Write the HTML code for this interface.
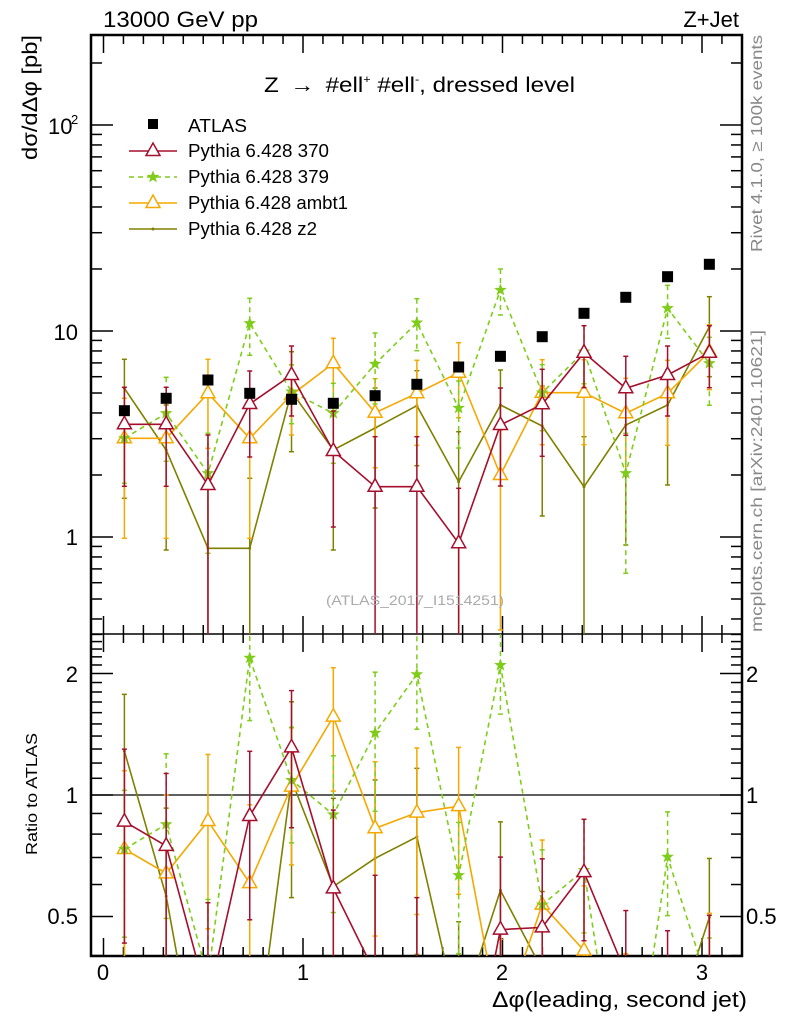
<!DOCTYPE html>
<html><head><meta charset="utf-8"><style>
html,body{margin:0;background:#fff;overflow:hidden;width:786px;height:1024px;}
svg{display:block;font-family:"Liberation Sans",sans-serif;}
</style></head><body>
<svg id="s" width="786" height="1024" xmlns="http://www.w3.org/2000/svg">
<defs>
<clipPath id="cm"><rect x="91" y="35" width="651" height="599"/></clipPath>
<clipPath id="cr"><rect x="91" y="634" width="651" height="322"/></clipPath>
</defs>
<g id="g"></g>
<text x="103" y="27" font-size="22" textLength="155" lengthAdjust="spacingAndGlyphs">13000 GeV pp</text>
<text x="739" y="27" font-size="22" text-anchor="end">Z+Jet</text>
<text x="264" y="92" font-size="21" textLength="311" lengthAdjust="spacingAndGlyphs">Z <tspan dx="4">→</tspan> <tspan dx="4">#ell</tspan><tspan font-size="11" dy="-9">+</tspan><tspan dy="9"> #ell</tspan><tspan font-size="11" dy="-9">-</tspan><tspan dy="9">, dressed level</tspan></text>
<g font-size="18">
<text x="188" y="132" textLength="59" lengthAdjust="spacingAndGlyphs">ATLAS</text>
<text x="188" y="157" textLength="141" lengthAdjust="spacingAndGlyphs">Pythia 6.428 370</text>
<text x="188" y="183" textLength="141" lengthAdjust="spacingAndGlyphs">Pythia 6.428 379</text>
<text x="188" y="209" textLength="160" lengthAdjust="spacingAndGlyphs">Pythia 6.428 ambt1</text>
<text x="188" y="235" textLength="129" lengthAdjust="spacingAndGlyphs">Pythia 6.428 z2</text>
</g>
<text transform="translate(37,160) rotate(-90)" font-size="21" textLength="125" lengthAdjust="spacingAndGlyphs">dσ/dΔφ [pb]</text>
<text transform="translate(37,855) rotate(-90)" font-size="16" textLength="122" lengthAdjust="spacingAndGlyphs">Ratio to ATLAS</text>
<text transform="translate(762,252) rotate(-90)" font-size="16" fill="#888" textLength="217" lengthAdjust="spacingAndGlyphs">Rivet 4.1.0, ≥ 100k events</text>
<text transform="translate(762,632) rotate(-90)" font-size="16" fill="#888" textLength="302" lengthAdjust="spacingAndGlyphs">mcplots.cern.ch [arXiv:2401.10621]</text>
<text x="415" y="605" font-size="14" fill="#aaa" text-anchor="middle" textLength="178" lengthAdjust="spacingAndGlyphs">(ATLAS_2017_I1514251)</text>
<g font-size="22">
<text x="48" y="134">10</text><text x="71" y="124" font-size="13">2</text>
<text x="78" y="340" text-anchor="end">10</text>
<text x="78" y="545" text-anchor="end">1</text>
<text x="78" y="682" text-anchor="end">2</text>
<text x="78" y="803" text-anchor="end">1</text>
<text x="78" y="924" text-anchor="end">0.5</text>
<text x="746" y="682">2</text>
<text x="746" y="803">1</text>
<text x="746" y="924">0.5</text>
<text x="103" y="980" text-anchor="middle">0</text>
<text x="303" y="980" text-anchor="middle">1</text>
<text x="502" y="980" text-anchor="middle">2</text>
<text x="702" y="980" text-anchor="middle">3</text>
<text x="492" y="1007" font-size="22" textLength="255" lengthAdjust="spacingAndGlyphs">Δφ(leading, second jet)</text>
</g>
</svg>
<script>
var NS="http://www.w3.org/2000/svg",G=document.getElementById('g');
function el(t,a,p){var e=document.createElementNS(NS,t);for(var k in a)e.setAttribute(k,a[k]);(p||G).appendChild(e);return e;}
var L=91,R=742,T=35,M=634,B=956;
var X=[];for(var i=0;i<15;i++)X.push(103.5+199.5*(Math.PI/15)*(i+0.5));
function ym(v){return 537-206*Math.log10(v);}
function lt(x1,y1,x2,y2){el('line',{x1:x1,y1:y1,x2:x2,y2:y2,stroke:'#000','stroke-width':1.5});}
function yr(v){return 795-403.5*Math.log10(v);}
for(var d=-1;d<=2;d++)for(var k=1;k<10;k++){var v=k*Math.pow(10,d),y=ym(v);if(y<T||y>M)continue;var len=k==1?22:11;lt(L,y,L+len,y);lt(R,y,R-len,y);}
var rv=[0.4,0.5,0.6,0.7,0.8,0.9,1,1.1,1.2,1.3,1.4,1.5,1.6,1.7,1.8,1.9,2,2.1,2.2,2.3,2.4,2.5];
rv.forEach(function(v){var y=yr(v);if(y<M||y>B)return;var len=(v==1||v==2||v==0.5)?22:11;lt(L,y,L+len,y);lt(R,y,R-len,y);});
for(var t=0;t<=32;t++){var x=103.5+199.5*t/10;if(x>R)break;var len=t%10==0?18:9;
[T,M].forEach(function(y){lt(x,y,x,y+len);});[M,B].forEach(function(y){lt(x,y,x,y-len);});}
el('rect',{x:L,y:T,width:R-L,height:B-T,fill:'none',stroke:'#000','stroke-width':2.5});
lt(L,M,R,M);
el('line',{x1:L,y1:795,x2:R,y2:795,stroke:'#000','stroke-width':1.2});
var A=[410.7,398.3,380,393.3,399.3,403.3,395.7,384.3,367,356.3,336.7,313.3,297.3,276.7,264.3];
var S=[
{c:'#a50f2d',m:'tri',dash:null,y:[424.3,424.3,485,404,375,451,486.7,486.7,543.3,425,404.3,352.7,388.3,375,352.7],
 up:[37,37,50,33,29,40,50,50,55,37,35,27,32,29,27],dn:[62,62,200,53,41,76,200,200,200,61,52,35,47,41,35]},
{c:'#7fcc1a',m:'star',dash:'5,4',y:[438.3,413.3,473.3,323.3,391.7,413.3,364,322.7,408,290,392.7,351.7,473.3,308.3,363.3],
 up:[30,36,40,25,27,30,31,24,27,21,28,26,40,23,26],dn:[45,48,80,32,32,50,40,28,40,25,38,32,100,30,42]},
{c:'#f5a800',m:'tri',dash:null,y:[438.3,438.3,393.3,438.3,395,363.3,412.7,393.3,372.7,475,392.7,392.7,413.3,393.3,351.7],
 up:[40,40,34,40,30,25,34,33,30,45,33,33,35,33,27],dn:[100,100,55,100,40,38,55,52,45,155,52,52,60,52,38]},
{c:'#808000',m:'dot',dash:null,y:[388.3,450,548.3,548.3,391.7,450,428,405.7,481.7,405,426,486.7,425,405,326.7],
 up:[29,45,70,70,40,45,40,35,50,35,40,50,40,35,30],dn:[110,100,150,150,60,100,80,60,200,70,90,200,120,80,50]}
];
function marker(s,x,y,p){
 if(s.m=='tri'){el('polygon',{points:(x-7)+','+(y+4.5)+' '+(x+7)+','+(y+4.5)+' '+x+','+(y-8),fill:'#fff',stroke:s.c,'stroke-width':1.5},p);}
 else if(s.m=='star'){var pts=[];for(var i=0;i<10;i++){var r=i%2?2.3:5.5,a=-Math.PI/2+i*Math.PI/5;pts.push((x+r*Math.cos(a)).toFixed(1)+','+(y+r*Math.sin(a)).toFixed(1));}el('polygon',{points:pts.join(' '),fill:s.c,stroke:s.c,'stroke-width':0.8},p);}
 else el('circle',{cx:x,cy:y,r:1.5,fill:s.c},p);
}
function series(s,gp,fy,fu,fd){
 var pts=X.map(function(x,i){return x.toFixed(1)+','+fy(i).toFixed(1);}).join(' ');
 var a={points:pts,fill:'none',stroke:s.c,'stroke-width':1.6};if(s.dash)a['stroke-dasharray']=s.dash;
 el('polyline',a,gp);
 X.forEach(function(x,i){var y=fy(i),t=y-fu(i),b=y+fd(i);var a={x1:x,y1:t,x2:x,y2:b,stroke:s.c,'stroke-width':1.5};if(s.dash)a['stroke-dasharray']=s.dash;el('line',a,gp);
  el('line',{x1:x-2.5,y1:t,x2:x+2.5,y2:t,stroke:s.c,'stroke-width':1.5},gp);el('line',{x1:x-2.5,y1:b,x2:x+2.5,y2:b,stroke:s.c,'stroke-width':1.5},gp);
  marker(s,x,y,gp);});
}
var gm=el('g',{'clip-path':'url(#cm)'}),gr=el('g',{'clip-path':'url(#cr)'});
var f=1.9587;
[3,2,1,0].forEach(function(j){var s=S[j];
 series(s,gm,function(i){return s.y[i];},function(i){return s.up[i];},function(i){return s.dn[i];});
 series(s,gr,function(i){return 795-f*(A[i]-s.y[i]);},function(i){return s.up[i]*f;},function(i){return s.dn[i]*f;});
});
A.forEach(function(y,i){el('rect',{x:X[i]-5.5,y:y-5.5,width:11,height:11,fill:'#000'},gm);});
el('rect',{x:148,y:119,width:10,height:10,fill:'#000'});
var ly=[151,177,203,229];
S.forEach(function(s,j){var a={x1:129,y1:ly[j],x2:177,y2:ly[j],stroke:s.c,'stroke-width':1.6};if(s.dash)a['stroke-dasharray']=s.dash;el('line',a);marker(s,153,ly[j]);});
</script>
</body></html>
